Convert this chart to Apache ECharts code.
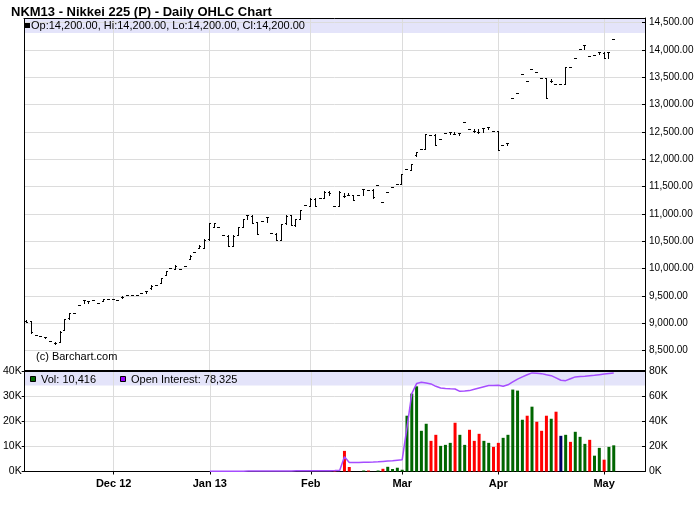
<!DOCTYPE html>
<html><head><meta charset="utf-8">
<script src="https://cdn.jsdelivr.net/npm/echarts@6/dist/echarts.min.js"></script>
<style>html,body{margin:0;padding:0;background:#fff}#c{width:700px;height:512px}</style>
</head><body><div id="c"></div>
<script>
const dates = [
'2012-11-06','2012-11-07','2012-11-08','2012-11-09','2012-11-12','2012-11-13','2012-11-14','2012-11-15','2012-11-16','2012-11-19',
'2012-11-20','2012-11-21','2012-11-23','2012-11-26','2012-11-27','2012-11-28','2012-11-29','2012-11-30',
'2012-12-03','2012-12-04','2012-12-05','2012-12-06','2012-12-07','2012-12-10','2012-12-11','2012-12-12','2012-12-13','2012-12-14',
'2012-12-17','2012-12-18','2012-12-19','2012-12-20','2012-12-21','2012-12-24','2012-12-26','2012-12-27','2012-12-28','2012-12-31',
'2013-01-02','2013-01-03','2013-01-04','2013-01-07','2013-01-08','2013-01-09','2013-01-10','2013-01-11','2013-01-14','2013-01-15',
'2013-01-16','2013-01-17','2013-01-18','2013-01-22','2013-01-23','2013-01-24','2013-01-25','2013-01-28','2013-01-29','2013-01-30','2013-01-31',
'2013-02-01','2013-02-04','2013-02-05','2013-02-06','2013-02-07','2013-02-08','2013-02-11','2013-02-12','2013-02-13','2013-02-14',
'2013-02-15','2013-02-19','2013-02-20','2013-02-21','2013-02-22','2013-02-25','2013-02-26','2013-02-27','2013-02-28',
'2013-03-01','2013-03-04','2013-03-05','2013-03-06','2013-03-07','2013-03-08','2013-03-11','2013-03-12','2013-03-13','2013-03-14',
'2013-03-15','2013-03-18','2013-03-19','2013-03-20','2013-03-21','2013-03-22','2013-03-25','2013-03-26','2013-03-27','2013-03-28',
'2013-04-01','2013-04-02','2013-04-03','2013-04-04','2013-04-05','2013-04-08','2013-04-09','2013-04-10','2013-04-11','2013-04-12',
'2013-04-15','2013-04-16','2013-04-17','2013-04-18','2013-04-19','2013-04-22','2013-04-23','2013-04-24','2013-04-25','2013-04-26',
'2013-04-29','2013-04-30','2013-05-01','2013-05-02','2013-05-03'];
const futureDates = ['2013-05-06','2013-05-07','2013-05-08','2013-05-09','2013-05-10','2013-05-13'];

const opens = [
9050,9040,8780,8770,8745,8670,8645,8660,8880,9090, 9195,9330,9420,9400,9420,9380,9400,9440,9450,9430,
9480,9520,9510,9520,9560,9600,9640,9700,9740,9880, 10020,10000,9990,10050,10180,10300,10380,10380,10540,10770,
10760,10610,10600,10420,10620,10770,10975,10970,10850,10870, 10945,10645,10640,10525,10830,10975,10790,10910,11160,11150,
11280,11295,11290,11410,11145,11150,11320,11350,11340,11345, 11450,11440,11440,11530,11210,11405,11485,11545,11550,11820,
11810,12070,12180,12190,12445,12450,12365,12475,12505,12460, 12475,12675,12555,12510,12490,12575,12585,12520,12520,12260,
12290,13115,13205,13560,13430,13650,13605,13480,13480,13440, 13375,13375,13380,13680,13850,14015,14090,13890,13910,13960,
13950,13960,14200];
const highs = [
9060,9045,8780,8770,8745,8670,8650,8860,9085,9190, 9195,9330,9420,9410,9420,9380,9440,9440,9450,9430,
9500,9520,9510,9520,9560,9600,9700,9700,9830,9960, 10020,10060,9990,10050,10250,10300,10430,10540,10835,10835,
10760,10610,10610,10610,10765,10905,10975,10975,10855,10870, 10945,10645,10645,10825,10975,10975,10905,11080,11160,11285,
11285,11295,11420,11420,11145,11420,11380,11385,11345,11345, 11450,11440,11450,11530,11210,11405,11485,11545,11740,11820,
11910,12140,12180,12460,12445,12455,12365,12475,12505,12505, 12475,12675,12555,12555,12555,12575,12585,12520,12520,12260,
12290,13115,13205,13560,13430,13650,13605,13480,13485,13470, 13375,13375,13695,13680,13850,14015,14090,13890,13910,13960,
13960,13960,14200];
const lows = [
9020,8830,8780,8770,8725,8670,8630,8658,8870,9085, 9195,9330,9365,9370,9420,9380,9400,9440,9450,9430,
9470,9520,9510,9520,9560,9560,9630,9700,9740,9880, 10020,9990,9990,10050,10170,10300,10375,10375,10530,10765,
10760,10610,10410,10410,10610,10765,10900,10835,10625,10870, 10855,10645,10520,10520,10825,10795,10775,10905,11160,11145,
11145,11295,11285,11345,11145,11145,11315,11345,11255,11345, 11345,11440,11300,11530,11210,11405,11485,11545,11545,11820,
11800,12060,12180,12180,12445,12260,12365,12475,12460,12455, 12445,12675,12555,12505,12485,12505,12555,12520,12170,12260,
12260,13115,13205,13560,13430,13650,13605,13480,13115,13420, 13375,13375,13375,13680,13850,14015,14015,13890,13910,13925,
13850,13850,14200];
const closes = [
9030,8840,8780,8770,8745,8670,8645,8850,9080,9180, 9195,9330,9420,9400,9420,9380,9440,9440,9450,9430,
9490,9520,9510,9520,9560,9600,9690,9700,9820,9950, 10020,10050,9990,10050,10240,10300,10420,10530,10830,10830,
10760,10610,10420,10600,10760,10900,10975,10840,10630,10870, 10945,10645,10525,10820,10970,10800,10900,11080,11160,11280,
11150,11295,11410,11380,11145,11410,11320,11350,11260,11345, 11450,11440,11310,11530,11210,11405,11485,11545,11740,11820,
11905,12130,12180,12455,12445,12270,12365,12475,12505,12460, 12475,12675,12555,12510,12490,12575,12585,12520,12175,12260,
12290,13115,13205,13560,13430,13650,13605,13480,13120,13440, 13375,13375,13690,13680,13850,14015,14090,13890,13910,13960,
13855,13960,14200];

const volumes = [
null,null,null,null,null,null,null,null,null,null, null,null,null,null,null,null,null,null,null,null,
null,null,null,null,null,null,null,null,null,null, null,null,null,null,null,null,null,null,null,null,
null,null,null,null,null,null,null,null,null,null, null,null,null,null,null,null,null,null,null,null,
null,null,null,null,
400,null,8200,1800,null,null,400,400,null,400,
1080,1870,1000,1500,700,22200,31000,33900,16200,19000,
12200,14600,10200,10600,11400,19400,14600,10600,16600,12200,
15000,12200,11400,9800,11400,13400,14600,32600,32200,20600,
22200,25800,19800,16200,22200,21000,23800,14200,14600,11800,
15800,13800,11000,12600,6300,9400,4700,9800,10416];
// 1 = up day, -1 = down day, 0 = unchanged (only used where volume exists)
const volDir = [
1,1,1,1,1,1,1,1,1,1, 1,1,1,1,1,1,1,1,1,1, 1,1,1,1,1,1,1,1,1,1, 1,1,1,1,1,1,1,1,1,1,
1,1,1,1,1,1,1,1,1,1, 1,1,1,1,1,1,1,1,1,1, 1,1,1,1,
-1,1,-1,-1,1,1,1,-1,1,1,
-1,1,1,1,1,1,1,1,1,1,
-1,-1,1,1,1,-1,1,1,-1,-1,
-1,1,1,-1,-1,1,1,1,1,1,
-1,1,-1,-1,-1,1,-1,0,1,-1,
1,1,1,-1,1,1,-1,1,1];
const openInterest = [
null,null,null,null,null,null,null,null,null,null, null,null,null,null,null,null,null,null,null,null,
null,null,null,null,null,null,null,null,null,null, null,null,null,null,null,null,null,null,
100,100,150,150,200,200,250,250,300,300, 300,350,350,400,400,400,450,450,500,500, 500,550,550,600,600,650,700,800,
11800,7100,7200,7200,7300,7400,7500,7700,8000,8300,
8600,9000,9300,35000,62000,70000,71000,70500,69700,67800,
66500,66000,65800,65700,63800,64000,64400,65500,66500,67500,
68400,68500,68600,67800,69000,71300,73500,75300,77000,78500,
78200,77900,77000,76300,74500,72600,72300,73800,75300,75600,
75800,76200,76600,77100,77600,78000,78325];

const tickDates = ['2012-12-03','2013-01-02','2013-02-01','2013-03-01','2013-04-01','2013-05-01'];
const tickLabels = ['Dec 12','Jan 13','Feb','Mar','Apr','May'];
const priceTicks = [8500,9000,9500,10000,10500,11000,11500,12000,12500,13000,13500,14000,14500];

const FONT = '"Liberation Sans", Arial, Helvetica, sans-serif';
const cats = dates.concat(futureDates);
const isTick = (i, v) => tickDates.indexOf(v) >= 0;
const fmt2 = v => v.toLocaleString('en-US', {minimumFractionDigits: 2, maximumFractionDigits: 2});
const last = dates.length - 1;
const dirColor = {'1': '#006600', '-1': '#ff0000', '0': '#000066'};

const ohlcData = dates.map((d, i) => [i, opens[i], highs[i], lows[i], closes[i]]);
const volData = volumes.map((v, i) => ({value: v, itemStyle: {color: dirColor[String(volDir[i])]}}));

function renderOHLC(params, api) {
  const i = api.value(0);
  const pO = api.coord([i, api.value(1)]);
  const yH = Math.round(api.coord([i, api.value(2)])[1]);
  const yL = Math.round(api.coord([i, api.value(3)])[1]);
  const yC = Math.round(api.coord([i, api.value(4)])[1]);
  const yO = Math.round(pO[1]);
  const x = Math.floor(pO[0]);
  const st = {fill: '#000'};
  return {type: 'group', children: [
    {type: 'rect', shape: {x: x, y: yH, width: 1, height: Math.max(1, yL - yH + 1)}, style: st},
    {type: 'rect', shape: {x: x - 1, y: yO, width: 1, height: 1}, style: st},
    {type: 'rect', shape: {x: x + 1, y: yC, width: 1, height: 1}, style: st}
  ]};
}

const chart = echarts.init(document.getElementById('c'), null, {renderer: 'canvas'});
const gridLine = {show: true, lineStyle: {color: '#dcdcdc', width: 1}};
chart.setOption({
  animation: false,
  backgroundColor: '#fff',
  textStyle: {fontFamily: FONT},
  grid: [
    {left: 24, right: 55, top: 18, height: 353},
    {left: 24, right: 55, top: 371, height: 100.5}
  ],
  xAxis: [
    {type: 'category', gridIndex: 0, data: cats, position: 'top', boundaryGap: true,
     axisLine: {show: true, lineStyle: {color: '#000', width: 1}}, axisTick: {show: false}, axisLabel: {show: false},
     splitLine: Object.assign({interval: isTick, alignWithLabel: true}, gridLine)},
    {type: 'category', gridIndex: 1, data: cats, position: 'bottom', boundaryGap: true,
     axisLine: {show: true, lineStyle: {color: '#000', width: 1}},
     axisTick: {show: true, interval: isTick, alignWithLabel: true, length: 3, lineStyle: {color: '#000'}},
     axisLabel: {show: true, interval: isTick, fontSize: 11, fontWeight: 'bold', color: '#000', margin: 7, fontFamily: FONT,
       formatter: v => tickLabels[tickDates.indexOf(v)] || ''},
     splitLine: Object.assign({interval: isTick, alignWithLabel: true}, gridLine)}
  ],
  yAxis: [
    {type: 'value', gridIndex: 0, position: 'right', min: 8128, max: 14584, minInterval: 500, maxInterval: 500, splitNumber: 13,
     axisLine: {show: true, lineStyle: {color: '#000'}},
     axisTick: {show: true, inside: true, length: 3, lineStyle: {color: '#000'}},
     axisLabel: {fontSize: 10, color: '#000', margin: 4, fontFamily: FONT,
       formatter: v => priceTicks.indexOf(v) >= 0 ? fmt2(v) : ''},
     splitLine: gridLine},
    {type: 'value', gridIndex: 1, position: 'left', min: 0, max: 40000, interval: 10000,
     axisLine: {show: true, lineStyle: {color: '#000'}},
     axisTick: {show: true, inside: false, length: 3, lineStyle: {color: '#000'}},
     axisLabel: {fontSize: 10.5, color: '#000', margin: 3, fontFamily: FONT, formatter: v => (v / 1000) + 'K'},
     splitLine: gridLine},
    {type: 'value', gridIndex: 1, position: 'right', min: 0, max: 80000, interval: 20000,
     axisLine: {show: true, lineStyle: {color: '#000'}},
     axisTick: {show: true, inside: true, length: 3, lineStyle: {color: '#000'}},
     axisLabel: {fontSize: 10.5, color: '#000', margin: 4, fontFamily: FONT, formatter: v => (v / 1000) + 'K'},
     splitLine: {show: false}}
  ],
  series: [
    {type: 'custom', name: 'OHLC', xAxisIndex: 0, yAxisIndex: 0, renderItem: renderOHLC, data: ohlcData,
     encode: {x: 0, y: [1, 2, 3, 4]}, clip: true, silent: true, z: 5,
     markLine: {silent: true, symbol: 'none', animation: false, lineStyle: {opacity: 0},
       label: {show: true, position: 'end', formatter: () => fmt2(closes[last]), color: '#fff', backgroundColor: '#000',
         fontSize: 10, fontFamily: FONT, padding: [1, 1, 0, 1], distance: 3, offset: [0, -4]},
       data: [{yAxis: closes[last]}]}},
    {type: 'bar', name: 'Vol', xAxisIndex: 1, yAxisIndex: 1, data: volData, barWidth: 3, silent: true, z: 3},
    {type: 'line', name: 'Open Interest', xAxisIndex: 1, yAxisIndex: 2, data: openInterest, symbol: 'none',
     lineStyle: {color: '#a64dff', width: 1.5}, silent: true, z: 6}
  ],
  graphic: [
    {type: 'rect', z: -1, shape: {x: 24, y: 18.5, width: 621, height: 14.5}, style: {fill: '#e4e4fa'}},
    {type: 'rect', z: -1, shape: {x: 24, y: 372, width: 621, height: 13.5}, style: {fill: '#e4e4fa'}},
    {type: 'text', z: 10, x: 11, y: 12, style: {text: 'NKM13 - Nikkei 225 (P) - Daily OHLC Chart', font: 'bold 13px ' + FONT, fill: '#000', textVerticalAlign: 'middle', verticalAlign: 'middle'}},
    {type: 'rect', z: 10, shape: {x: 25, y: 23, width: 5, height: 5}, style: {fill: '#000'}},
    {type: 'text', z: 10, x: 31, y: 26, style: {text: 'Op:' + fmt2(opens[last]) + ', Hi:' + fmt2(highs[last]) + ', Lo:' + fmt2(lows[last]) + ', Cl:' + fmt2(closes[last]),
      font: '11px ' + FONT, fill: '#000', verticalAlign: 'middle'}},
    {type: 'text', z: 10, x: 36, y: 357, style: {text: '(c) Barchart.com', font: '11px ' + FONT, fill: '#000', verticalAlign: 'middle'}},
    {type: 'rect', z: 10, shape: {x: 30.5, y: 376.5, width: 5, height: 5}, style: {fill: '#006600', stroke: '#000', lineWidth: 1}},
    {type: 'text', z: 10, x: 41, y: 379.5, style: {text: 'Vol: ' + volumes[last].toLocaleString('en-US'), font: '11px ' + FONT, fill: '#000', verticalAlign: 'middle'}},
    {type: 'rect', z: 10, shape: {x: 120.5, y: 376.5, width: 5, height: 5}, style: {fill: '#9900ff', stroke: '#000', lineWidth: 1}},
    {type: 'text', z: 10, x: 131, y: 379.5, style: {text: 'Open Interest: ' + openInterest[last].toLocaleString('en-US'), font: '11px ' + FONT, fill: '#000', verticalAlign: 'middle'}},
    {type: 'line', z: 10, shape: {x1: 24.5, y1: 18, x2: 24.5, y2: 371}, style: {stroke: '#000', lineWidth: 1}},
    {type: 'line', z: 10, shape: {x1: 24, y1: 371, x2: 646, y2: 371}, style: {stroke: '#000', lineWidth: 2}}
  ]
});
</script></body></html>
